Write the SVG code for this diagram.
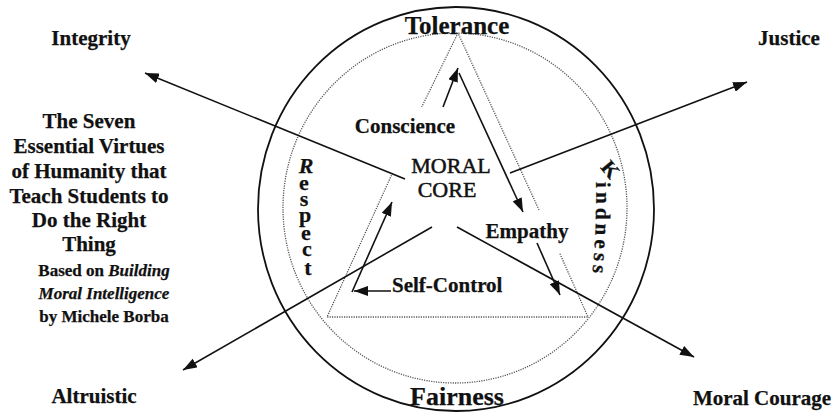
<svg xmlns="http://www.w3.org/2000/svg" width="839" height="414" viewBox="0 0 839 414">
<defs>
<style>
.t{font-family:"Liberation Serif","Times New Roman",serif;font-weight:bold;font-size:21px;fill:#111;stroke:#111;stroke-width:0.25;}
.c{text-anchor:middle;}
.n{font-weight:normal;stroke-width:0.5;}
.sm{font-size:17px;}
.it{font-style:italic;}
.ln{fill:none;stroke:#111;stroke-width:1.6;}
.dot{fill:none;stroke:#555;stroke-width:1.3;stroke-dasharray:1.2 1.2;}
.ring{fill:none;stroke:#111;stroke-width:1.8;}
</style>
<marker id="ah" viewBox="0 0 14 10" refX="14" refY="5" markerWidth="14" markerHeight="10" markerUnits="userSpaceOnUse" orient="auto">
<path d="M0,0 L14,5 L0,10 z" fill="#111"/>
</marker>
<path id="kpath" d="M596,182 Q597,235 591,284"/>
</defs>
<rect width="839" height="414" fill="#fff"/>
<g id="frame">
<ellipse class="ring" cx="456" cy="209" rx="198" ry="202"/>
<ellipse class="dot" cx="455" cy="208" rx="172" ry="175"/>
<path class="dot" d="M458,33 L421.7,107 M392.5,173 L327,317 L588,317 L559.6,253 M539,210 L458,33"/>
</g>
<g id="connectors">
<line class="ln" x1="405" y1="179" x2="145" y2="73" marker-end="url(#ah)"/>
<line class="ln" x1="510" y1="173" x2="747" y2="82" marker-end="url(#ah)"/>
<line class="ln" x1="432" y1="227" x2="183" y2="370" marker-end="url(#ah)"/>
<line class="ln" x1="457" y1="227" x2="694" y2="357" marker-end="url(#ah)"/>
<line class="ln" x1="443" y1="107" x2="458" y2="68" marker-end="url(#ah)"/>
<line class="ln" x1="459" y1="73" x2="523" y2="212" marker-end="url(#ah)"/>
<line class="ln" x1="537" y1="243" x2="560" y2="295" marker-end="url(#ah)"/>
<line class="ln" x1="391" y1="291" x2="354" y2="291" marker-end="url(#ah)"/>
<line class="ln" x1="352" y1="292" x2="392" y2="202" marker-end="url(#ah)"/>
</g>
<g id="tolerance"><text class="t c" x="457" y="34" style="font-size:25px">Tolerance</text></g>
<g id="fairness"><text class="t c" x="457" y="405" style="font-size:26px">Fairness</text></g>
<g id="respect">
<text class="t c" style="font-size:22px" x="306 304 304 305 306 307 308" y="173 190 206 222 240 256 275"><tspan class="it">R</tspan>espect</text>
</g>
<g id="kindness">
<text class="t c" transform="translate(605,174) rotate(50)">K</text>
<text class="t" style="letter-spacing:4px"><textPath href="#kpath">indness</textPath></text>
</g>
<g id="conscience"><text class="t c" x="405" y="133">Conscience</text></g>
<g id="moral-core">
<text class="t c n" x="451" y="173" style="font-size:22px">MORAL</text>
<text class="t c n" x="447" y="197" style="font-size:22px">CORE</text>
</g>
<g id="empathy"><text class="t c" x="527" y="238">Empathy</text></g>
<g id="self-control"><text class="t" x="392" y="292">Self-Control</text></g>
<g id="integrity"><text class="t c" x="91" y="45">Integrity</text></g>
<g id="justice"><text class="t c" x="789" y="45">Justice</text></g>
<g id="altruistic"><text class="t c" x="94" y="403">Altruistic</text></g>
<g id="moral-courage"><text class="t c" x="762" y="405">Moral Courage</text></g>
<g id="title">
<text class="t c" x="89" y="128">The Seven</text>
<text class="t c" x="89" y="153">Essential Virtues</text>
<text class="t c" x="89" y="178">of Humanity that</text>
<text class="t c" x="89" y="203">Teach Students to</text>
<text class="t c" x="89" y="227">Do the Right</text>
<text class="t c" x="89" y="251">Thing</text>
<text class="t c sm" x="104" y="276">Based on <tspan class="it">Building</tspan></text>
<text class="t c sm it" x="104" y="299">Moral Intelligence</text>
<text class="t c sm" x="104" y="322">by Michele Borba</text>
</g>
</svg>
